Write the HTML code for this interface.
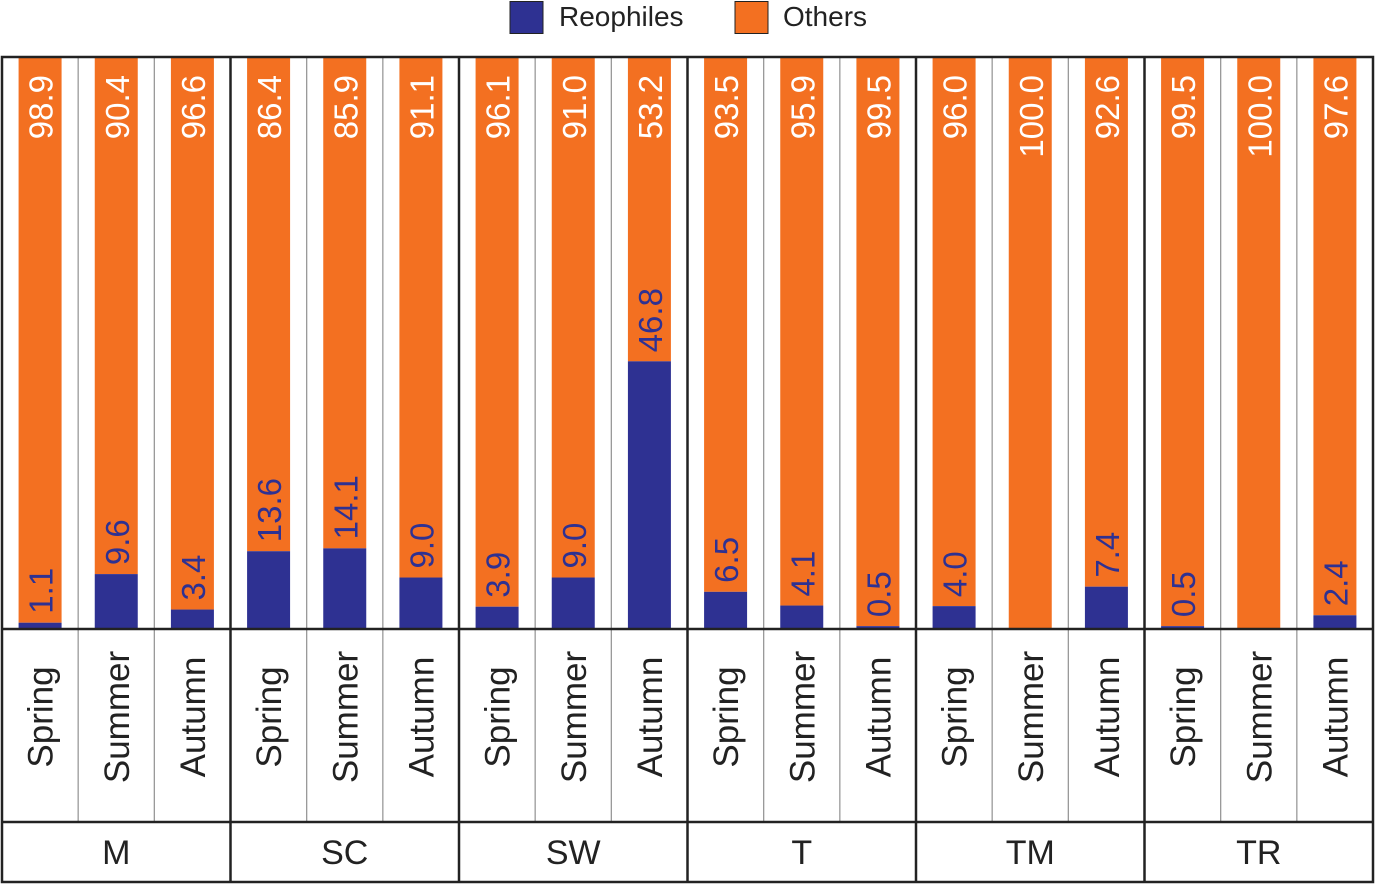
<!DOCTYPE html>
<html><head><meta charset="utf-8"><style>
body{margin:0;background:#fff}
svg{display:block;font-family:"Liberation Sans",Arial,sans-serif}
</style></head><body>
<svg id="chart" width="1375" height="884">
<g>
<rect x="510" y="1.5" width="33" height="32" fill="#2e3192" stroke="#222" stroke-width="1"/>
<text x="559" y="26" font-size="28" fill="#222">Reophiles</text>
<rect x="735" y="1.5" width="33" height="32" fill="#f37021" stroke="#222" stroke-width="1"/>
<text x="783" y="26" font-size="28" fill="#222">Others</text>
</g>
<g id="bars"></g>
<g id="grid"></g>
</svg>
<script>
const groups = ["M","SC","SW","T","TM","TR"];
const seasons = ["Spring","Summer","Autumn"];
const reophiles = [1.1,9.6,3.4, 13.6,14.1,9.0, 3.9,9.0,46.8, 6.5,4.1,0.5, 4.0,0,7.4, 0.5,0,2.4];
const others = [98.9,90.4,96.6, 86.4,85.9,91.1, 96.1,91.0,53.2, 93.5,95.9,99.5, 96.0,100.0,92.6, 99.5,100.0,97.6];

const NS="http://www.w3.org/2000/svg";
const L=2,R=1373,T=57,B=629,CAT=822,BOT=882;
const slot=(R-L)/reophiles.length, bw=43;
const y=v=>B-v/100*(B-T);
const xc=i=>L+slot*(i+0.5);
function mk(tag,attrs,parent){const e=document.createElementNS(NS,tag);for(const k in attrs)e.setAttribute(k,attrs[k]);parent.appendChild(e);return e;}
const bars=document.getElementById('bars'), grid=document.getElementById('grid');

reophiles.forEach((r,i)=>{
  const cx=xc(i), o=others[i];
  const ob=mk('rect',{x:cx-bw/2,y:y(r+o),width:bw,height:y(r)-y(r+o),fill:'#f37021'},bars);
  
  
  if(r>0){
    const rb=mk('rect',{x:cx-bw/2,y:y(r),width:bw,height:B-y(r),fill:'#2e3192'},bars);
    
    
    const lt=mk('text',{transform:`translate(${cx+1},${y(r)-9}) rotate(-90)`,'font-size':33,fill:'#2e3192','dominant-baseline':'central'},bars);
    lt.textContent=r.toFixed(1);
    
    
  }
  const ot=mk('text',{transform:`translate(${cx+1},${T+18}) rotate(-90)`,'font-size':33,fill:'#fff','text-anchor':'end','dominant-baseline':'central'},bars);
  ot.textContent=o.toFixed(1);
  
  
  const st=mk('text',{transform:`translate(${cx+1},717) rotate(-90)`,'font-size':35,fill:'#222','text-anchor':'middle','dominant-baseline':'central'},grid);
  st.textContent=seasons[i%3];
  
  
  if(i%3!==0){
    const gl=mk('line',{x1:L+slot*i,x2:L+slot*i,y1:T,y2:CAT,stroke:'#999','stroke-width':1.3},grid);
    
    
  }
});
groups.forEach((g,k)=>{
  const t=mk('text',{x:L+slot*(3*k+1.5),y:853,'font-size':34,fill:'#222','text-anchor':'middle','dominant-baseline':'central'},grid);
  t.textContent=g;
  
  
  if(k>0){
    const gl=mk('line',{x1:L+slot*3*k,x2:L+slot*3*k,y1:T,y2:BOT,stroke:'#222','stroke-width':2.5},grid);
    
    
  }
});
const frame=mk('rect',{x:L,y:T,width:R-L,height:BOT-T,fill:'none',stroke:'#222','stroke-width':2.5},grid);


[B,CAT].forEach(yy=>{
  const hl=mk('line',{x1:L,x2:R,y1:yy,y2:yy,stroke:'#222','stroke-width':2.5},grid);
  
  
});
</script>
</body></html>
